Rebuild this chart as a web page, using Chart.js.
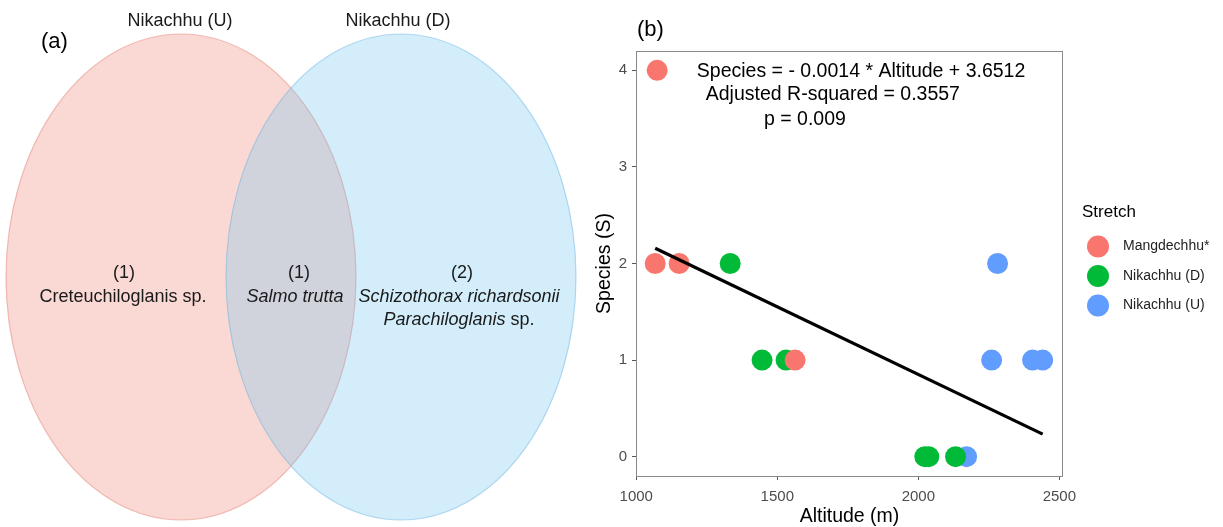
<!DOCTYPE html>
<html>
<head>
<meta charset="utf-8">
<title>Nikachhu fish species: Venn diagram and altitude regression</title>
<script src="https://cdn.jsdelivr.net/npm/chart.js@4"></script>
<style>
  html, body { margin: 0; padding: 0; background: #fff; }
  #wrap { position: relative; width: 1223px; height: 527px; overflow: hidden; }
  #venn { position: absolute; left: 0; top: 0; width: 620px; height: 527px; }
  #scatter { position: absolute; left: 580px; top: 0; width: 643px; height: 527px; }
</style>
</head>
<body>
<div id="wrap">
  <canvas id="venn" width="620" height="527"></canvas>
  <canvas id="scatter" width="643" height="527"></canvas>
</div>
<script>
'use strict';

// ---- panel (a): Venn of species per stretch
var vennSets = ['Nikachhu (U)', 'Nikachhu (D)'];
var regionCounts = [1, 1, 2]; // U only, shared, D only
var regionSpecies = [
  ['Creteuchiloglanis sp.'],
  ['Salmo trutta'],
  ['Schizothorax richardsonii', 'Parachiloglanis sp.']
];
var italicNames = ['Salmo trutta', 'Schizothorax richardsonii', 'Parachiloglanis'];

// ---- panel (b): species richness vs altitude
var stretches = ['Mangdechhu*', 'Nikachhu (D)', 'Nikachhu (U)'];
var mangAltitude = [1074, 1067, 1152, 1563];
var mangSpecies = [4, 2, 2, 1];
var nikDAltitude = [1333, 1446, 1531, 2023, 2037, 2132];
var nikDSpecies = [2, 1, 1, 0, 0, 0];
var nikUAltitude = [2281, 2260, 2405, 2441, 2171];
var nikUSpecies = [2, 1, 1, 1, 0];
var slope = -0.0014;
var intercept = 3.6512;
var adjR2 = 0.3557;
var pValue = 0.009;
var xTicks = [1000, 1500, 2000, 2500];
var yTicks = [0, 1, 2, 3, 4];

var FONT = "'Liberation Sans', Arial, Helvetica, sans-serif";
var stretchColors = ['#F8766D', '#00BA38', '#619CFF'];

function toPoints(xs, ys) {
  var pts = [];
  for (var i = 0; i < xs.length; i++) {
    pts.push({x: xs[i], y: ys[i]});
  }
  return pts;
}

function drawMixed(ctx, str, cx, y, size) {
  // genus / species names in italics, the rest upright
  var ital = '';
  for (var i = 0; i < italicNames.length; i++) {
    if (str.indexOf(italicNames[i]) === 0) { ital = italicNames[i]; }
  }
  var rest = str.slice(ital.length);
  ctx.font = 'italic ' + size + 'px ' + FONT;
  var w1 = ctx.measureText(ital).width;
  ctx.font = size + 'px ' + FONT;
  var w2 = ctx.measureText(rest).width;
  var x = cx - (w1 + w2) / 2;
  ctx.textAlign = 'left';
  ctx.font = 'italic ' + size + 'px ' + FONT;
  ctx.fillText(ital, x, y);
  ctx.font = size + 'px ' + FONT;
  ctx.fillText(rest, x + w1, y);
}

var vennPlugin = {
  id: 'vennDraw',
  beforeDatasetsDraw: function(chart) {
    var ctx = chart.ctx;
    var xs = chart.scales.x, ys = chart.scales.y;
    var shapes = [
      {cx: 181, cy: 277, rx: 175, ry: 243, fill: 'rgba(240,128,112,0.3)', line: 'rgba(225,120,105,0.45)'},
      {cx: 401, cy: 277, rx: 175, ry: 243, fill: 'rgba(110,195,240,0.3)', line: 'rgba(100,175,225,0.45)'}
    ];
    ctx.save();
    shapes.forEach(function(s) {
      var px = xs.getPixelForValue(s.cx), py = ys.getPixelForValue(s.cy);
      var rx = Math.abs(xs.getPixelForValue(s.cx + s.rx) - px);
      var ry = Math.abs(ys.getPixelForValue(s.cy + s.ry) - py);
      ctx.beginPath();
      ctx.ellipse(px, py, rx, ry, 0, 0, Math.PI * 2);
      ctx.fillStyle = s.fill;
      ctx.fill();
      ctx.lineWidth = 1.2;
      ctx.strokeStyle = s.line;
      ctx.stroke();
    });

    ctx.fillStyle = '#1a1a1a';
    ctx.textBaseline = 'middle';
    ctx.textAlign = 'center';
    ctx.font = '18px ' + FONT;
    var setLabelX = [180, 398];
    vennSets.forEach(function(name, i) {
      ctx.fillText(name, xs.getPixelForValue(setLabelX[i]), ys.getPixelForValue(21));
    });

    var countX = [124, 299, 462];
    var nameX = [123, 295, 459];
    for (var r = 0; r < regionCounts.length; r++) {
      ctx.textAlign = 'center';
      ctx.font = '18px ' + FONT;
      ctx.fillText('(' + regionCounts[r] + ')', xs.getPixelForValue(countX[r]), ys.getPixelForValue(273));
      for (var k = 0; k < regionSpecies[r].length; k++) {
        drawMixed(ctx, regionSpecies[r][k], xs.getPixelForValue(nameX[r]), ys.getPixelForValue(297 + k * 23), 18);
      }
    }

    ctx.textAlign = 'left';
    ctx.font = '22px ' + FONT;
    ctx.fillStyle = '#000';
    ctx.fillText('(a)', 41, 42);
    ctx.restore();
  }
};

new Chart(document.getElementById('venn'), {
  type: 'scatter',
  data: {datasets: []},
  options: {
    responsive: false,
    animation: false,
    events: [],
    layout: {padding: 0},
    plugins: {legend: {display: false}, tooltip: {enabled: false}},
    scales: {
      x: {type: 'linear', min: 0, max: 620, display: false},
      y: {type: 'linear', min: 0, max: 527, reverse: true, display: false}
    }
  },
  plugins: [vennPlugin]
});

// ---- scatter panel extras: frame, fit text, legend, panel tag
var panelPlugin = {
  id: 'panelExtras',
  afterDraw: function(chart) {
    var ctx = chart.ctx;
    var a = chart.chartArea;
    var xs = chart.scales.x, ys = chart.scales.y;
    ctx.save();
    ctx.strokeStyle = '#8a8a8a';
    ctx.lineWidth = 1;
    ctx.strokeRect(a.left + 0.5, a.top + 0.5, a.right - a.left - 1, a.bottom - a.top);

    // regression text
    var sign = slope < 0 ? '- ' : '';
    var lines = [
      {t: 'Species = ' + sign + Math.abs(slope).toFixed(4) + ' * Altitude + ' + intercept.toFixed(4), x: 1797, y: 3.93},
      {t: 'Adjusted R-squared = ' + adjR2.toFixed(4), x: 1697, y: 3.69},
      {t: 'p = ' + pValue.toFixed(3), x: 1598, y: 3.43}
    ];
    ctx.fillStyle = '#000';
    ctx.font = '19.5px ' + FONT;
    ctx.textAlign = 'center';
    ctx.textBaseline = 'alphabetic';
    lines.forEach(function(l) {
      ctx.fillText(l.t, xs.getPixelForValue(l.x), ys.getPixelForValue(l.y));
    });

    // legend
    var lx = a.right;
    ctx.textAlign = 'left';
    ctx.textBaseline = 'middle';
    ctx.font = '17px ' + FONT;
    ctx.fillStyle = '#000';
    ctx.fillText('Stretch', lx + 19, 212);
    ctx.font = '14px ' + FONT;
    for (var i = 0; i < stretches.length; i++) {
      var cy = 246.5 + i * 29.5;
      ctx.beginPath();
      ctx.arc(lx + 35, cy, 11, 0, Math.PI * 2);
      ctx.fillStyle = stretchColors[i];
      ctx.fill();
      ctx.fillStyle = '#222';
      ctx.fillText(stretches[i], lx + 60, cy);
    }

    ctx.font = '22px ' + FONT;
    ctx.fillStyle = '#000';
    ctx.fillText('(b)', 57, 30);
    ctx.restore();
  }
};

var allAltitude = mangAltitude.concat(nikDAltitude, nikUAltitude);
var altMin = Math.min.apply(null, allAltitude);
var altMax = Math.max.apply(null, allAltitude);

var datasets = [{
  type: 'line',
  label: 'fit',
  data: [{x: altMin, y: slope * altMin + intercept}, {x: altMax, y: slope * altMax + intercept}],
  borderColor: '#000',
  borderWidth: 3.2,
  pointRadius: 0,
  fill: false
}];
var seriesAlt = [mangAltitude, nikDAltitude, nikUAltitude];
var seriesSp = [mangSpecies, nikDSpecies, nikUSpecies];
for (var s = 0; s < stretches.length; s++) {
  datasets.push({
    label: stretches[s],
    data: toPoints(seriesAlt[s], seriesSp[s]),
    backgroundColor: stretchColors[s],
    borderWidth: 0,
    pointRadius: 10.5,
    pointHoverRadius: 10.5
  });
}

new Chart(document.getElementById('scatter'), {
  type: 'scatter',
  data: {datasets: datasets},
  options: {
    responsive: false,
    animation: false,
    events: [],
    layout: {padding: {left: 0, right: 160, top: 51, bottom: 0}},
    plugins: {legend: {display: false}, tooltip: {enabled: false}},
    scales: {
      x: {
        type: 'linear',
        min: 999,
        max: 2513,
        afterBuildTicks: function(axis) {
          axis.ticks = xTicks.map(function(v) { return {value: v}; });
        },
        afterFit: function(axis) { axis.height = 51; },
        border: {display: false},
        grid: {drawOnChartArea: false, drawTicks: true, tickLength: 4, color: '#555'},
        ticks: {color: '#4d4d4d', font: {size: 15, family: FONT}, padding: 8, maxRotation: 0,
                callback: function(v) { return String(v); }},
        title: {display: true, text: 'Altitude (m)', color: '#000',
                font: {size: 19.5, family: FONT, lineHeight: 1}, padding: {top: 0, bottom: 1}}
      },
      y: {
        type: 'linear',
        min: -0.2,
        max: 4.2,
        afterBuildTicks: function(axis) {
          axis.ticks = yTicks.map(function(v) { return {value: v}; });
        },
        afterFit: function(axis) { axis.width = 56; },
        border: {display: false},
        grid: {drawOnChartArea: false, drawTicks: true, tickLength: 4, color: '#555'},
        ticks: {color: '#4d4d4d', font: {size: 15, family: FONT}, padding: 5,
                callback: function(v) { return String(v); }},
        title: {display: true, text: 'Species (S)', color: '#000',
                font: {size: 19.5, family: FONT, lineHeight: 1}, padding: {top: 15, bottom: 0}}
      }
    }
  },
  plugins: [panelPlugin]
});
</script>
</body>
</html>
